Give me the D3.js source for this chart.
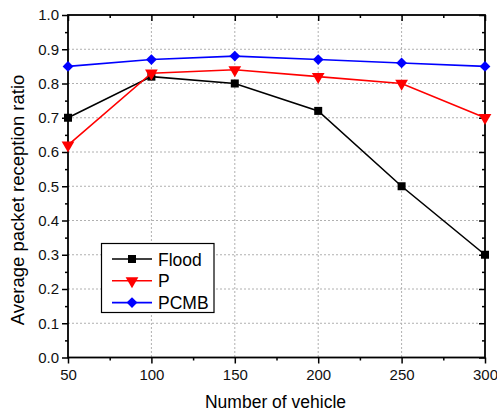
<!DOCTYPE html>
<html>
<head>
<meta charset="utf-8">
<script src="https://cdn.jsdelivr.net/npm/d3@7"></script>
<style>
  body { margin: 0; background: #fff; }
  svg { font-family: "Liberation Sans", Arial, sans-serif; }
</style>
</head>
<body>
<svg id="chart" width="497" height="412"></svg>
<script>
// data
const vehicles = [50, 100, 150, 200, 250, 300];
const flood = [0.70, 0.82, 0.80, 0.72, 0.50, 0.30];
const pOnly = [0.62, 0.83, 0.84, 0.82, 0.80, 0.70];
const pcmb = [0.85, 0.87, 0.88, 0.87, 0.86, 0.85];
const seriesNames = ["Flood", "P", "PCMB"];
const xTicks = [50, 100, 150, 200, 250, 300];
const yTicks = [0, 0.1, 0.2, 0.3, 0.4, 0.5, 0.6, 0.7, 0.8, 0.9, 1.0];

const svg = d3.select("#chart");
const plotL = 68, plotR = 485, plotT = 15, plotB = 357.5;

const x = d3.scaleLinear().domain([50, 300]).range([plotL, plotR]);
const y = d3.scaleLinear().domain([0, 1]).range([plotB, plotT]);

const xMinor = d3.range(75, 300, 50);
const yMinor = d3.range(0.05, 1, 0.1);

// dotted grid
svg.append("g").selectAll("line")
  .data(xTicks.slice(1, -1))
  .enter().append("line")
  .attr("x1", d => x(d)).attr("x2", d => x(d))
  .attr("y1", plotT).attr("y2", plotB)
  .attr("stroke", "#b0b0b0").attr("stroke-dasharray", "2,2");

svg.append("g").selectAll("line")
  .data(yTicks.slice(1, -1))
  .enter().append("line")
  .attr("y1", d => y(d)).attr("y2", d => y(d))
  .attr("x1", plotL).attr("x2", plotR)
  .attr("stroke", "#b0b0b0").attr("stroke-dasharray", "2,2");

// axes
function styleAxis(g) {
  g.select(".domain").remove();
  g.selectAll(".tick line").attr("stroke", "#000").attr("stroke-width", 1.5);
  g.selectAll(".tick text").attr("font-size", 15).attr("fill", "#111");
}

svg.append("g").attr("transform", `translate(0,${plotB})`)
  .call(d3.axisBottom(x).tickValues(xTicks).tickFormat(d3.format("d")).tickSize(6).tickPadding(6))
  .call(styleAxis);
svg.append("g").attr("transform", `translate(0,${plotB})`)
  .call(d3.axisBottom(x).tickValues(xMinor).tickFormat("").tickSize(3))
  .call(styleAxis);

svg.append("g").attr("transform", `translate(${plotL},0)`)
  .call(d3.axisLeft(y).tickValues(yTicks).tickFormat(d3.format(".1f")).tickSize(6).tickPadding(3))
  .call(styleAxis);
svg.append("g").attr("transform", `translate(${plotL},0)`)
  .call(d3.axisLeft(y).tickValues(yMinor).tickFormat("").tickSize(3))
  .call(styleAxis);

// mirrored ticks, pointing inward
svg.append("g").attr("transform", `translate(0,${plotT})`)
  .call(d3.axisBottom(x).tickValues(xTicks).tickFormat("").tickSize(6))
  .call(styleAxis);
svg.append("g").attr("transform", `translate(0,${plotT})`)
  .call(d3.axisBottom(x).tickValues(xMinor).tickFormat("").tickSize(3))
  .call(styleAxis);
svg.append("g").attr("transform", `translate(${plotR},0)`)
  .call(d3.axisLeft(y).tickValues(yTicks).tickFormat("").tickSize(6))
  .call(styleAxis);
svg.append("g").attr("transform", `translate(${plotR},0)`)
  .call(d3.axisLeft(y).tickValues(yMinor).tickFormat("").tickSize(3))
  .call(styleAxis);

svg.append("rect")
  .attr("x", plotL).attr("y", plotT)
  .attr("width", plotR - plotL).attr("height", plotB - plotT)
  .attr("fill", "none").attr("stroke", "#000").attr("stroke-width", 1.8);

// series
const series = [
  { name: seriesNames[0], values: flood, color: "#000000", shape: d3.symbolSquare, size: 64, rot: 0 },
  { name: seriesNames[1], values: pOnly, color: "#ff0000", shape: d3.symbolTriangle, size: 70, rot: 180 },
  { name: seriesNames[2], values: pcmb, color: "#0000ff", shape: d3.symbolSquare, size: 58, rot: 45 }
];

const line = d3.line().x((d, i) => x(vehicles[i])).y(d => y(d));

series.forEach(s => {
  svg.append("path")
    .attr("d", line(s.values))
    .attr("fill", "none")
    .attr("stroke", s.color)
    .attr("stroke-width", 1.6);
  svg.append("g").selectAll("path")
    .data(s.values)
    .enter().append("path")
    .attr("d", d3.symbol().type(s.shape).size(s.size))
    .attr("transform", (d, i) => `translate(${x(vehicles[i])},${y(d)}) rotate(${s.rot})`)
    .attr("fill", s.color);
});

// legend
const lg = svg.append("g");
lg.append("rect")
  .attr("x", 101.5).attr("y", 243.5)
  .attr("width", 112.5).attr("height", 69)
  .attr("fill", "#fff").attr("stroke", "#000").attr("stroke-width", 1.2);
series.forEach((s, i) => {
  const yy = 259 + i * 21.8;
  lg.append("line")
    .attr("x1", 112).attr("x2", 152).attr("y1", yy).attr("y2", yy)
    .attr("stroke", s.color).attr("stroke-width", 1.6);
  lg.append("path")
    .attr("d", d3.symbol().type(s.shape).size(s.size))
    .attr("transform", `translate(132,${yy}) rotate(${s.rot})`)
    .attr("fill", s.color);
  lg.append("text")
    .attr("x", 158).attr("y", yy + 6.5)
    .attr("font-size", 17.5)
    .text(s.name);
});

// axis titles
svg.append("text")
  .attr("x", (plotL + plotR) / 2 - 1).attr("y", 408)
  .attr("text-anchor", "middle").attr("font-size", 17.5)
  .text("Number of vehicle");

svg.append("text")
  .attr("transform", `translate(24,200) rotate(-90)`)
  .attr("text-anchor", "middle").attr("font-size", 18.5)
  .text("Average packet reception ratio");
</script>
</body>
</html>
